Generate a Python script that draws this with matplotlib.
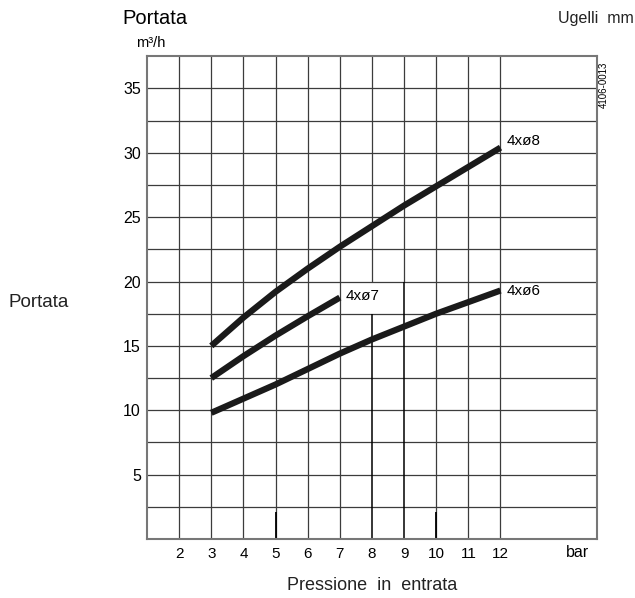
import numpy as np
import matplotlib.pyplot as plt

plt.rcParams['font.family'] = ['Liberation Sans', 'DejaVu Sans']

# Pressione in entrata (bar)
p_8 = [3, 4, 5, 6, 7, 8, 9, 10, 11, 12]
q_8 = [15.0, 17.2, 19.2, 21.0, 22.7, 24.3, 25.9, 27.4, 28.9, 30.4]

p_7 = [3, 4, 5, 6, 7]
q_7 = [12.5, 14.2, 15.8, 17.3, 18.75]

p_6 = [3, 4, 5, 6, 7, 8, 9, 10, 11, 12]
q_6 = [9.8, 10.9, 12.0, 13.2, 14.4, 15.5, 16.5, 17.5, 18.4, 19.3]

x_ticks = [2, 3, 4, 5, 6, 7, 8, 9, 10, 11, 12]
y_ticks = [5, 10, 15, 20, 25, 30, 35]

fig = plt.figure(figsize=(6.35, 5.98), dpi=100)
ax = fig.add_axes([0.2315, 0.0987, 0.7085, 0.8073])
ax.set_xlim(1, 15)
ax.set_ylim(0, 37.5)

# griglia
gc = '#3c3c3c'
xg = [2, 3, 4, 5, 6, 7, 10, 11, 12]
yg = np.arange(2.5, 37.5, 2.5)
ax.vlines(xg, 0, 37.5, color=gc, lw=0.9, zorder=1)
ax.hlines(yg, 1, 15, color=gc, lw=0.9, zorder=1)
ax.vlines([8, 9], 20, 37.5, color=gc, lw=0.9, zorder=1)
ax.vlines(8, 0, 17.5, color='black', lw=1.1, zorder=1)
ax.vlines(9, 0, 20, color='black', lw=1.1, zorder=1)
ax.vlines([5, 10], 0, 2.1, color='black', lw=1.3, zorder=1)

for s in ax.spines.values():
    s.set_color('#777777')
    s.set_linewidth(1.5)

ax.plot(p_8, q_8, color='#1a1a1a', lw=4.5, solid_capstyle='butt', zorder=3)
ax.plot(p_7, q_7, color='#1a1a1a', lw=4.5, solid_capstyle='butt', zorder=3)
ax.plot(p_6, q_6, color='#1a1a1a', lw=4.5, solid_capstyle='butt', zorder=3)

ax.text(12.2, 30.9, "4xø8", fontsize=11, va='center', ha='left')
ax.text(7.18, 18.85, "4xø7", fontsize=11, va='center', ha='left')
ax.text(12.2, 19.3, "4xø6", fontsize=11, va='center', ha='left')

ax.set_xticks(x_ticks)
ax.set_xticklabels([str(v) for v in x_ticks])
ax.set_yticks(y_ticks)
ax.set_yticklabels([str(v) for v in y_ticks])
ax.tick_params(axis='x', length=0, labelsize=11, pad=6)
ax.tick_params(axis='y', length=0, labelsize=11.5, pad=4.5)

fig.text(0.193, 0.96, "Portata", fontsize=14.5, ha='left', va='baseline')
fig.text(0.215, 0.922, "m³/h", fontsize=10.5, ha='left', va='baseline')
fig.text(0.998, 0.961, "Ugelli  mm", fontsize=11.5, ha='right', va='baseline', color='#222222')
fig.text(0.013, 0.486, "Portata", fontsize=13.5, ha='left', va='baseline', color='#222222')
fig.text(0.586, 0.0134, "Pressione  in  entrata", fontsize=13, ha='center', va='baseline', color='#222222')
fig.text(0.910, 0.069, "bar", fontsize=11.5, ha='center', va='baseline')
fig.text(0.951, 0.858, "4106-0013", fontsize=7, rotation=90, ha='center', va='center')

fig.savefig("out.png", dpi=100)
